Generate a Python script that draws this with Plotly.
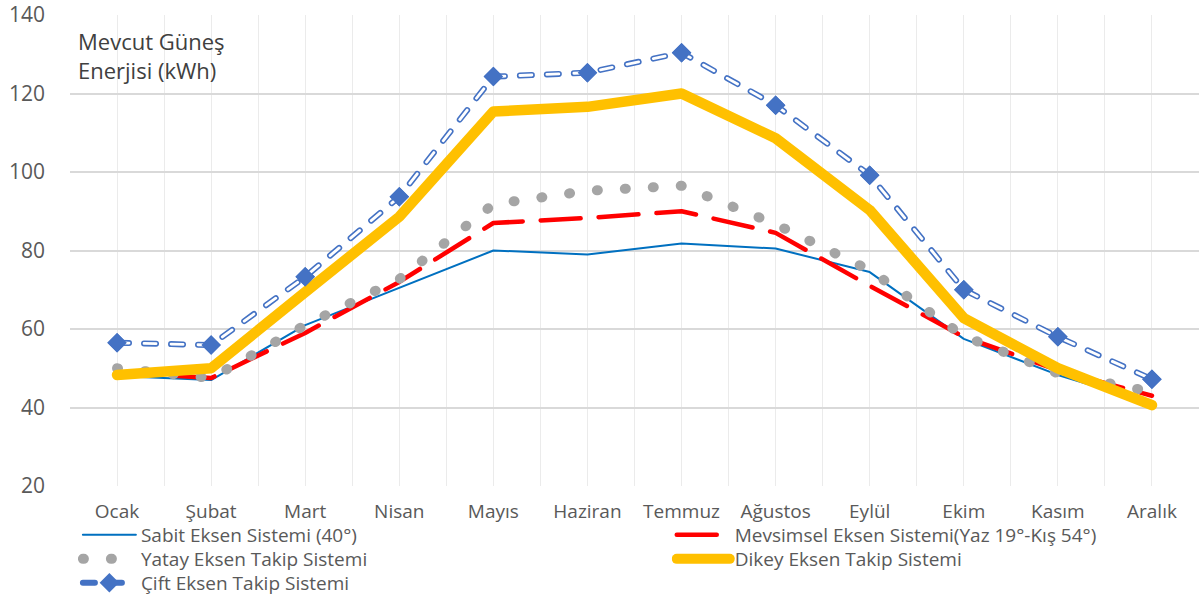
import plotly.graph_objects as go

months = ["Ocak", "Şubat", "Mart", "Nisan", "Mayıs", "Haziran",
          "Temmuz", "Ağustos", "Eylül", "Ekim", "Kasım", "Aralık"]
sabit = [48, 47, 61, 70.5, 80, 79, 81.8, 80.5, 74.5, 57.5, 48.3, 41]
mevsimsel = [49, 47.5, 59, 72, 87, 88.3, 90, 84.5, 71, 58, 49.5, 43]
yatay = [50, 47.5, 61, 72.7, 91.8, 95.2, 96.5, 86.7, 75, 58.2, 48.7, 44]
dikey = [48.3, 50, 69.4, 88.6, 115.4, 116.6, 120, 108.6, 90.3, 62.8, 50, 40.6]
cift = [56.5, 55.9, 73.3, 93.7, 124.3, 125.3, 130.4, 117, 99.2, 70, 58, 47.2]

names = ["Sabit Eksen Sistemi (40°)",
         "Mevsimsel Eksen Sistemi(Yaz 19°-Kış 54°)",
         "Yatay Eksen Takip Sistemi",
         "Dikey Eksen Takip Sistemi",
         "Çift Eksen Takip Sistemi"]
y_ticks = [20, 40, 60, 80, 100, 120, 140]
title_text = "Mevcut Güneş<br>Enerjisi (kWh)"

xpos = list(range(len(months)))
FONT = "Open Sans"

fig = go.Figure()
fig.add_trace(go.Scatter(x=xpos, y=sabit, name=names[0], mode="lines",
                         legend="legend",
                         line=dict(color="#0070C0", width=2)))
fig.add_trace(go.Scatter(x=xpos, y=mevsimsel, name=names[1], mode="lines",
                         legend="legend2",
                         line=dict(color="#FF0000", width=4.5, dash="40px,18px")))
fig.add_trace(go.Scatter(x=xpos, y=yatay, name=names[2], mode="lines",
                         legend="legend3",
                         line=dict(color="#A5A5A5", width=10, dash="1px,27px")))
fig.add_trace(go.Scatter(x=xpos, y=dikey, name=names[3], mode="lines",
                         legend="legend4",
                         line=dict(color="#FFC000", width=10.5)))
fig.add_trace(go.Scatter(x=xpos, y=cift, name=names[4], mode="lines+markers",
                         legend="legend5",
                         line=dict(color="#4472C4", width=6, dash="12px,15px"),
                         marker=dict(symbol="diamond", size=15, color="#4472C4")))
fig.add_trace(go.Scatter(x=xpos, y=cift, showlegend=False, mode="lines",
                         hoverinfo="skip",
                         line=dict(color="#FFFFFF", width=2.8, dash="12px,15px")))
fig.add_trace(go.Scatter(x=xpos, y=cift, showlegend=False, mode="markers",
                         hoverinfo="skip",
                         marker=dict(symbol="diamond", size=15, color="#4472C4")))

legend_common = dict(orientation="v", xanchor="left", yanchor="top",
                     xref="paper", yref="container",
                     font=dict(size=19, color="#595959", family=FONT),
                     tracegroupgap=0, itemwidth=53, bgcolor="rgba(0,0,0,0)")
fig.update_layout(
    width=1201, height=601,
    margin=dict(l=70, r=2, t=15, b=115),
    paper_bgcolor="white", plot_bgcolor="white",
    font=dict(family=FONT, color="#595959"),
    legend=dict(x=0.007, y=0.1414, **legend_common),
    legend2=dict(x=0.533, y=0.1414, **legend_common),
    legend3=dict(x=0.007, y=0.1015, **legend_common),
    legend4=dict(x=0.533, y=0.1015, **legend_common),
    legend5=dict(x=0.007, y=0.0616, **legend_common),
    showlegend=True,
)
fig.update_xaxes(range=[-0.5, len(months) - 0.5], tickmode="array",
                 tickvals=xpos, ticktext=months,
                 showgrid=True, gridcolor="#EBEBEB", gridwidth=1,
                 minor=dict(tickmode="array",
                            tickvals=[i - 0.5 for i in range(len(months) + 1)],
                            showgrid=True, gridcolor="#EBEBEB", gridwidth=1),
                 tickfont=dict(size=19, color="#595959"),
                 ticks="", ticklabelstandoff=12, zeroline=False,
                 showline=False, fixedrange=True, automargin=False)
fig.update_yaxes(range=[20, 140], tickmode="array", tickvals=y_ticks,
                 showgrid=True, gridcolor="#D9D9D9", gridwidth=1.5,
                 tickfont=dict(size=21, color="#595959"),
                 ticks="", ticklabelstandoff=24, zeroline=False,
                 showline=False, fixedrange=True, automargin=False)

fig.add_annotation(x=0.005, y=0.913, xref="paper", yref="paper",
                   xanchor="left", yanchor="middle", align="left",
                   text=title_text, showarrow=False,
                   font=dict(size=22, color="#404040", family=FONT))

js = """
document.body.style.margin='0';
document.body.style.padding='0';
function rc(){
 document.querySelectorAll('path.js-line').forEach(function(p){
   p.style.strokeLinecap='round'; p.style.strokeLinejoin='round';
 });
}
rc(); setTimeout(rc, 50); setTimeout(rc, 300);
"""
fig.write_html("out.html", post_script=js, config={"displayModeBar": False})
